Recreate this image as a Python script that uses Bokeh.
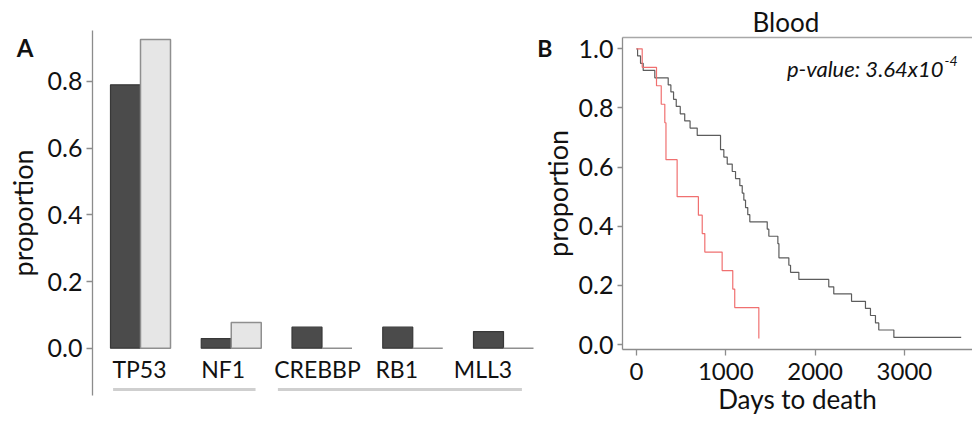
from bokeh.plotting import figure
from bokeh.models import Range1d, FixedTicker, Label, LinearAxis, PrintfTickFormatter
from bokeh.layouts import row
from bokeh.embed import file_html
from bokeh.resources import INLINE
from bokeh.core.properties import value

# ---------------- data ----------------
genes = ["TP53", "NF1", "CREBBP", "RB1", "MLL3"]
prop_dark = [0.79, 0.029, 0.063, 0.063, 0.05]
prop_light = [0.926, 0.077, 0.0, 0.0, 0.0]
gene_groups = [["TP53", "NF1"], ["CREBBP", "RB1", "MLL3"]]
yticks_a = [0.0, 0.2, 0.4, 0.6, 0.8]

grey_days = [0, 12, 45, 75, 205, 355, 385, 415, 445, 490, 540, 600, 680,
             941, 978, 1016, 1072, 1109, 1157, 1184, 1202, 1221, 1246, 1269,
             1464, 1482, 1583, 1595, 1706, 1725, 1818, 2153, 2209, 2408,
             2564, 2620, 2676, 2713, 2882, 3636]
grey_surv = [1.0, 0.976, 0.951, 0.927, 0.902, 0.878, 0.854, 0.829, 0.805,
             0.780, 0.756, 0.732, 0.707, 0.659, 0.634, 0.610, 0.585, 0.561,
             0.537, 0.512, 0.488, 0.463, 0.439, 0.415, 0.390, 0.366, 0.341,
             0.293, 0.268, 0.244, 0.220, 0.195, 0.171, 0.146, 0.122, 0.098,
             0.073, 0.049, 0.024, 0.024]
red_days = [0, 64, 224, 277, 317, 330, 455, 693, 736, 765, 959, 1078, 1100,
            1370, 1370]
red_surv = [1.0, 0.9375, 0.875, 0.8125, 0.75, 0.625, 0.5, 0.4375, 0.375,
            0.3125, 0.25, 0.1875, 0.125, 0.0625, 0.02]
xticks_b = [0, 1000, 2000, 3000]
yticks_b = [0.0, 0.2, 0.4, 0.6, 0.8, 1.0]

FONT = "Lato"
TXT = "#111111"
AXC = "#8c8c8c"


def letter_axis(y, letter, standoff, size):
    """A line-less left axis whose single tick label is the panel letter."""
    return LinearAxis(ticker=FixedTicker(ticks=[y]), major_label_overrides={y: letter},
                      axis_line_color=None, major_tick_line_color=None,
                      minor_tick_line_color=None, major_tick_in=0, major_tick_out=0,
                      major_label_standoff=standoff, major_label_orientation="horizontal",
                      major_label_text_font=FONT, major_label_text_font_style="bold",
                      major_label_text_font_size=size, major_label_text_color=TXT)


# ---------------- panel A ----------------
px_per_group = 90.75
ppu_a = 333.4
bar_w = 30 / px_per_group
idx = list(range(len(genes)))
label_nudge_px = [-1, -8, -4.5, -16, -20.5]
frame_left_a = 92

pa = figure(width=534, height=422, output_backend="svg", toolbar_location=None,
            x_range=Range1d(-(140 - frame_left_a) / px_per_group, (534 - 140) / px_per_group),
            y_range=Range1d(-(395 - 347.7) / ppu_a, (347.7 - 30) / ppu_a),
            x_axis_location=None, min_border_left=frame_left_a, min_border_right=0,
            min_border_top=30, min_border_bottom=27)
pa.frame_align = False
pa.outline_line_color = None
pa.grid.visible = False
pa.background_fill_color = "white"
pa.border_fill_color = "white"

pa.vbar(x=[i - bar_w / 2 for i in idx], top=prop_dark, bottom=0, width=bar_w,
        fill_color="#4b4b4b", line_color="#383838", line_width=1.2)
pa.vbar(x=[i + bar_w / 2 for i in idx], top=prop_light, bottom=0, width=bar_w,
        fill_color="#e6e6e6", line_color="#8f8f8f", line_width=1.5)

label_x = [i + n / px_per_group for i, n in zip(idx, label_nudge_px)]
pa.text(x=label_x, y=[-(368 - 347.7) / ppu_a] * len(genes), text=genes,
        text_align="center", text_baseline="middle", text_font=value(FONT),
        text_font_size="23px", text_color=TXT)

gx0, gx1 = [], []
for g in gene_groups:
    a, b = genes.index(g[0]), genes.index(g[-1])
    gx0.append(label_x[a] - len(g[0]) * 6.6 / px_per_group)
    gx1.append(label_x[b] + (len(g[-1]) * 6.6 + 12.5) / px_per_group)
uy = -(389 - 347.7) / ppu_a
pa.segment(x0=gx0, x1=gx1, y0=[uy] * len(gx0), y1=[uy] * len(gx0),
           line_color="#cfcfcf", line_width=3)

ya = pa.yaxis[0]
ya.ticker = FixedTicker(ticks=yticks_a)
ya.formatter = PrintfTickFormatter(format="%.1f")
ya.minor_tick_line_color = None
ya.axis_line_color = AXC
ya.axis_line_width = 1.3
ya.major_tick_in = 0
ya.major_tick_out = 6
ya.major_tick_line_color = AXC
ya.major_tick_line_width = 1.3
ya.major_label_text_font = FONT
ya.major_label_text_font_size = "25px"
ya.major_label_text_color = TXT
ya.major_label_standoff = 4
ya.axis_label = "proportion"
ya.axis_label_text_font = FONT
ya.axis_label_text_font_size = "27px"
ya.axis_label_text_font_style = "normal"
ya.axis_label_text_color = TXT
ya.axis_label_standoff = 6

pa.add_layout(letter_axis((347.7 - 46.5) / ppu_a, "A", -31, "24px"), "left")

# ---------------- panel B ----------------
ppd = 0.0893   # px per day
ppu = 295.7    # px per unit proportion
pb = figure(width=438, height=422, output_backend="svg", toolbar_location=None,
            x_range=Range1d(-(636 - 622) / ppd, (972 - 636) / ppd),
            y_range=Range1d(-(349 - 344) / ppu, (344 - 37) / ppu),
            min_border_left=88, min_border_right=0, min_border_top=37,
            min_border_bottom=73)
pb.frame_align = False
pb.outline_line_color = None
pb.grid.visible = False
pb.background_fill_color = "white"
pb.border_fill_color = "white"

pb.step(grey_days, grey_surv, mode="after", line_color="#5c5c5c", line_width=1.2)
pb.step(red_days, red_surv, mode="after", line_color="#f07070", line_width=1.2)

yb = pb.yaxis[0]
yb.ticker = FixedTicker(ticks=yticks_b)
yb.formatter = PrintfTickFormatter(format="%.1f")
yb.minor_tick_line_color = None
yb.major_tick_in = 0
yb.major_tick_out = 5
yb.axis_line_color = AXC
yb.axis_line_width = 1.3
yb.major_tick_line_color = AXC
yb.major_tick_line_width = 1.3
yb.major_label_text_font = FONT
yb.major_label_text_font_size = "25px"
yb.major_label_text_color = TXT
yb.major_label_standoff = 4
yb.axis_label = "proportion"
yb.axis_label_text_font = FONT
yb.axis_label_text_font_size = "27px"
yb.axis_label_text_font_style = "normal"
yb.axis_label_text_color = TXT
yb.axis_label_standoff = 2

pb.add_layout(letter_axis((344 - 47.5) / ppu, "B", -15, "23px"), "left")

xb = pb.xaxis[0]
xb.ticker = FixedTicker(ticks=xticks_b)
xb.minor_tick_line_color = None
xb.major_tick_in = 0
xb.major_tick_out = 6
xb.axis_line_color = AXC
xb.axis_line_width = 1.3
xb.major_tick_line_color = AXC
xb.major_tick_line_width = 1.3
xb.major_label_text_font = FONT
xb.major_label_text_font_size = "24px"
xb.major_label_text_color = TXT
xb.major_label_standoff = 7
xb.axis_label = "Days to death"
xb.axis_label_text_font = FONT
xb.axis_label_text_font_size = "26px"
xb.axis_label_text_font_style = "normal"
xb.axis_label_text_color = TXT
xb.axis_label_standoff = 0

top = LinearAxis(ticker=FixedTicker(ticks=[]), major_label_text_font_size="0px",
                 major_tick_line_color=None, minor_tick_line_color=None,
                 axis_line_color="#a8a8a8", axis_line_width=1.3)
pb.add_layout(top, "above")

pb.title.text = "Blood"
pb.title.text_font = FONT
pb.title.text_font_size = "26px"
pb.title.text_font_style = "normal"
pb.title.text_color = TXT
pb.title.align = "left"
pb.title.offset = 130
pb.title.standoff = 0

pb.add_layout(Label(x=(943 - 636) / ppd, y=(344 - 68.3) / ppu, text="p-value: 3.64x10",
                    text_font=FONT, text_font_style="italic", text_font_size="22px",
                    text_color=TXT, text_align="right", text_baseline="alphabetic"))
pb.add_layout(Label(x=(944 - 636) / ppd, y=(344 - 60) / ppu, text="-4",
                    text_font=FONT, text_font_style="italic", text_font_size="14px",
                    text_color=TXT, text_align="left", text_baseline="alphabetic"))

layout = row(pa, pb)
open("out.html", "w").write(file_html(layout, INLINE))
